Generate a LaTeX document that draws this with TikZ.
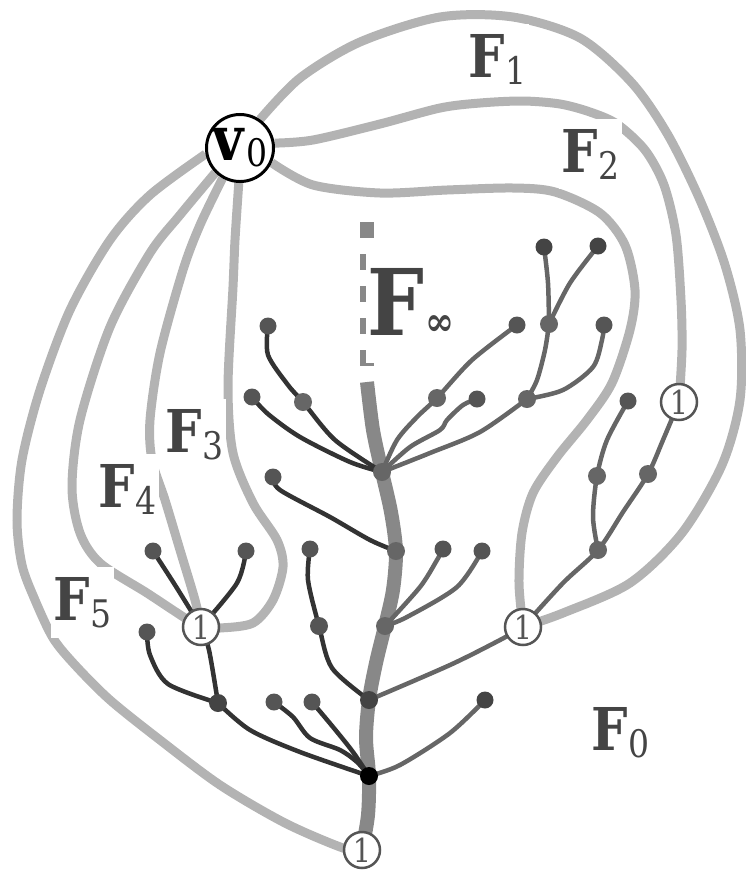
\documentclass[tikz,border=0pt]{standalone}
\usepackage{fontspec}
\setmainfont{DejaVu Serif}
\newfontfamily\labfont{DejaVu Serif}[FakeStretch=0.87]
\usepackage{tikz}
\pgfdeclarelayer{edges}
\pgfsetlayers{edges,main}
\definecolor{curvec}{HTML}{B3B3B3}
\definecolor{labc}{HTML}{444444}
\definecolor{trunkc}{HTML}{888888}
\definecolor{darkbr}{HTML}{333333}
\definecolor{midbr}{HTML}{666666}
\definecolor{leafc}{HTML}{555555}
\definecolor{juncc}{HTML}{666666}
\definecolor{onec}{HTML}{555555}
\newcommand{\FaceLab}[1]{F\raisebox{-7pt}{\mdseries\fontsize{38}{38}\selectfont #1}}
\begin{document}
\begin{tikzpicture}[x=1pt,y=-1pt,
 face/.style={draw=curvec,line width=9pt},
 darkb/.style={draw=darkbr,line width=4.5pt,line cap=round},
 midb/.style={draw=midbr,line width=4.5pt,line cap=round},
 trunkl/.style={draw=trunkc,line width=14pt},
 leaf/.style={circle,fill=leafc,inner sep=0pt,minimum size=17pt},
 junc/.style={circle,fill=juncc,inner sep=0pt,minimum size=18pt},
 one/.style={circle,draw=onec,line width=2.5pt,fill=white,inner sep=0pt,minimum size=36pt,text=onec,font=\labfont\fontsize{33}{33}\selectfont},
 root/.style={circle,draw=black,line width=3pt,fill=white,inner sep=0pt,minimum size=67pt,font=\labfont\fontsize{62}{62}\selectfont},
 lbl/.style={fill=white,inner xsep=3pt,inner ysep=10pt,text=labc,anchor=base west,font=\labfont\fontsize{59}{59}\selectfont\bfseries}]
\useasboundingbox (0,0) rectangle (746,871);

% main nodes
\node[root] (v0) at (240,148) {\textbf{v}\hspace{1pt}\raisebox{-6pt}{\mdseries\fontsize{38}{38}\selectfont 0}};
\node[one] (oA) at (201,627) {1};
\node[one] (oB) at (523,627) {1};
\node[one] (oC) at (679,402) {1};
\node[one] (oD) at (362,850) {1};

% trunk junctions
\coordinate (ttop) at (367,222);
\coordinate (tdash) at (367,366);
\coordinate (tt) at (367,382);
\node[junc] (t1) at (382,472) {};
\node[junc] (t2) at (396,551) {};
\node[junc] (t3) at (385,626) {};
\node[junc,fill=labc] (t4) at (369,700) {};
\node[junc,fill=black] (t5) at (369,776) {};

% left tree
\node[leaf] (lf1) at (268,326) {};
\node[junc] (j1) at (303,402) {};
\node[leaf] (lf2) at (252,397) {};
\node[leaf] (lf3) at (273,477) {};
\node[leaf] (lf4) at (310,549) {};
\node[junc,fill=leafc] (j2) at (319,626) {};
\node[leaf] (lf5) at (274,702) {};
\node[leaf] (lf6) at (312,702) {};
\node[junc,fill=labc] (j3) at (218,703) {};
\node[leaf] (lf7) at (147,632) {};
\node[leaf] (lf8) at (153,551) {};
\node[leaf] (lf9) at (246,551) {};

% right tree
\node[junc] (j4) at (437,398) {};
\node[leaf] (lf10) at (517,325) {};
\node[leaf] (lf11) at (477,399) {};
\node[junc] (j5) at (527,399) {};
\node[junc] (j6) at (549,324) {};
\node[leaf] (lf12) at (604,325) {};
\node[leaf,fill=labc] (lf13) at (544,247) {};
\node[leaf,fill=labc] (lf14) at (598,246) {};
\node[leaf] (lf15) at (443,549) {};
\node[leaf] (lf16) at (482,551) {};
\node[leaf,fill=labc] (lf17) at (485,700) {};
\node[junc] (j7) at (598,550) {};
\node[junc] (j8) at (648,474) {};
\node[junc] (j9) at (597,476) {};
\node[leaf] (lf18) at (628,401) {};

% labels
\node[lbl] (F1) at (465.5,77) {\FaceLab{1}};
\node[lbl] (F2) at (558.5,172) {\FaceLab{2}};
\node[lbl] (F3) at (162.5,452) {\FaceLab{3}};
\node[lbl] (F4) at (95.5,507) {\FaceLab{4}};
\node[lbl] (F5) at (50.5,620) {\FaceLab{5}};
\node[lbl] (F0) at (588.5,750) {\FaceLab{0}};
\node[lbl,inner xsep=1pt,inner ysep=0pt,text height=94pt,text depth=28pt,font=\labfont\fontsize{92}{92}\selectfont\bfseries] (Finf) at (366,335) {F\hspace{1pt}{\fontsize{40}{40}\selectfont ∞}};

\begin{pgfonlayer}{edges}
% light grey face boundaries
\draw[face] plot[smooth] coordinates {(v0.55) (300,78) (360,42) (440,17) (513,17) (580,38) (632,83) (668,135) (700,200) (725,265) (740,330) (740,400) (722,465) (682,533) (630,583) (563,613) (oB)};
\draw[face] plot[smooth] coordinates {(v0.8) (313,140) (380,124) (440,108) (480,103) (523,101) (560,104) (590,112) (617,124) (645,150) (664,185) (676,235) (681,300) (682,350) (oC)};
\draw[face] plot[smooth] coordinates {(v0.-25) (313,185) (380,193) (447,190) (513,188) (555,192) (600,213) (625,245) (635,290) (630,330) (612,383) (587,420) (557,457) (533,493) (522,533) (519,583) (oB)};
\draw[face] plot[smooth] coordinates {(v0.190) (150,195) (110,240) (70,310) (40,390) (22,460) (17,520) (22,565) (35,600) (53,638) (75,665) (110,700) (160,740) (220,785) (285,823) (343,848) (oD)};
\draw[face] plot[smooth] coordinates {(v0.225) (180,215) (150,253) (110,327) (80,420) (72,487) (80,533) (100,563) (147,593) (185,618) (oA)};
\draw[face] plot[smooth] coordinates {(v0.240) (200,225) (183,270) (160,353) (150,420) (152,460) (165,500) (180,550) (195,600) (oA)};
\draw[face] plot[smooth] coordinates {(v0.268) (235,240) (233,287) (228,387) (233,453) (253,503) (277,540) (283,567) (273,600) (253,623) (220,628) (oA)};

% trunk
\draw[trunkl,dash pattern=on 16pt off 16pt] (ttop) -- (tdash);
\draw[trunkl] plot[smooth] coordinates {(tt) (373,430) (t1) (391,512) (t2) (393,590) (t3) (376,663) (t4) (366,738) (t5) (368,815) (oD)};

% dark branches
\draw[darkb] plot[smooth] coordinates {(lf1) (268,355) (288,385) (j1) (335,440) (t1)};
\draw[darkb] plot[smooth] coordinates {(lf2) (268,414) (300,437) (350,462) (t1)};
\draw[darkb] plot[smooth] coordinates {(lf3) (280,490) (330,517) (370,540) (t2)};
\draw[darkb] plot[smooth] coordinates {(lf4) (308,580) (j2) (332,668) (t4)};
\draw[darkb] plot[smooth] coordinates {(lf6) (333,727) (353,752) (t5)};
\draw[darkb] plot[smooth] coordinates {(lf5) (293,717) (310,738) (340,750) (357,762) (t5)};
\draw[darkb] plot[smooth] coordinates {(j3) (250,730) (300,752) (t5)};
\draw[darkb] plot[smooth] coordinates {(lf7) (150,655) (168,684) (j3)};
\draw[darkb] plot[smooth] coordinates {(oA) (209,650) (j3)};
\draw[darkb] plot[smooth] coordinates {(lf8) (175,585) (oA)};
\draw[darkb] plot[smooth] coordinates {(lf9) (237,583) (oA)};

% medium branches
\draw[midb] plot[smooth] coordinates {(t1) (397,440) (417,417) (j4) (472,360) (lf10)};
\draw[midb] plot[smooth] coordinates {(t1) (410,447) (440,430) (447,420) (463,405) (lf11)};
\draw[midb] plot[smooth] coordinates {(t1) (430,453) (480,432) (j5)};
\draw[midb] plot[smooth] coordinates {(j5) (537,380) (545,350) (j6)};
\draw[midb] plot[smooth] coordinates {(j5) (563,390) (593,367) (602,340) (lf12)};
\draw[midb] plot[smooth] coordinates {(j6) (548,283) (lf13)};
\draw[midb] plot[smooth] coordinates {(j6) (570,283) (lf14)};
\draw[midb] plot[smooth] coordinates {(t3) (420,587) (437,560) (lf15)};
\draw[midb] plot[smooth] coordinates {(t3) (407,617) (457,587) (lf16)};
\draw[midb] plot[smooth] coordinates {(t4) (450,665) (500,640) (oB)};
\draw[midb] plot[smooth] coordinates {(t5) (400,765) (450,733) (lf17)};
\draw[midb] plot[smooth] coordinates {(oB) (563,583) (j7) (623,512) (j8) (663,440) (oC)};
\draw[midb] plot[smooth] coordinates {(j7) (593,517) (j9) (607,440) (lf18)};
\end{pgfonlayer}
\end{tikzpicture}
\end{document}
